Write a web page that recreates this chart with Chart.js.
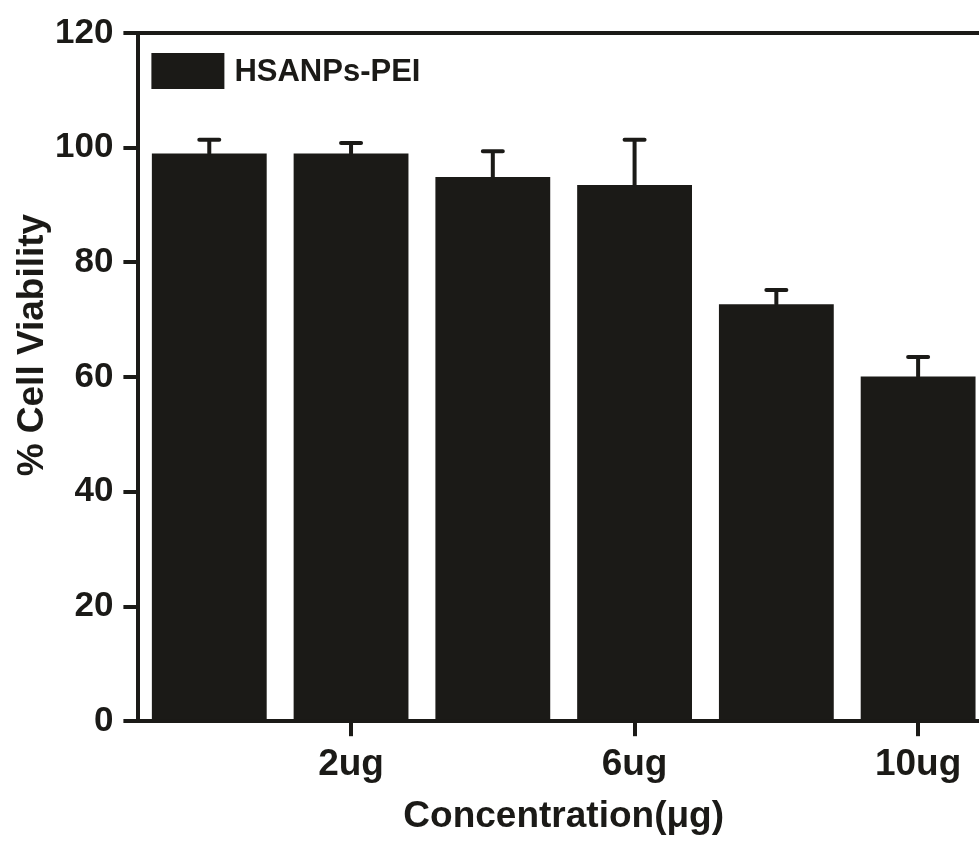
<!DOCTYPE html>
<html>
<head>
<meta charset="utf-8">
<script src="https://cdn.jsdelivr.net/npm/chart.js@4/dist/chart.umd.min.js"></script>
<style>
  html, body { margin: 0; padding: 0; background: #fff; overflow: hidden; }
  #wrap { width: 990px; height: 846px; }
</style>
</head>
<body>
<div id="wrap"><canvas id="viabilityChart" width="990" height="846"></canvas></div>
<script>
// values
const categories = ['', '2ug', '', '6ug', '', '10ug'];
const viability = [99.0, 99.0, 94.9, 93.5, 72.7, 60.1];
const errorUp = [2.4, 1.8, 4.5, 7.9, 2.5, 3.4];
const seriesName = 'HSANPs-PEI';
const yTitle = '% Cell Viability';
const xTitle = 'Concentration(\u03bcg)';
const ink = '#1b1a17';
const fontFamily = "'Liberation Sans', Arial, sans-serif";

// upper error bars, frame, in-plot legend and the (off-centre) y title
const extrasPlugin = {
    id: 'extras',
    afterDatasetsDraw(chart) {
        const ctx = chart.ctx;
        const y = chart.scales.y;
        const meta = chart.getDatasetMeta(0);
        ctx.save();
        ctx.strokeStyle = ink;
        ctx.lineWidth = 4;
        ctx.lineCap = 'round';
        meta.data.forEach((bar, i) => {
            const top = y.getPixelForValue(viability[i] + errorUp[i]);
            ctx.beginPath();
            ctx.moveTo(bar.x, bar.y);
            ctx.lineTo(bar.x, top);
            ctx.moveTo(bar.x - 10, top);
            ctx.lineTo(bar.x + 10, top);
            ctx.stroke();
        });

        const a = chart.chartArea;
        ctx.lineCap = 'butt';
        ctx.beginPath();
        ctx.moveTo(a.left - 2, a.top);
        ctx.lineTo(a.right, a.top);
        ctx.lineTo(a.right, a.bottom);
        ctx.stroke();

        // legend
        ctx.fillStyle = ink;
        ctx.fillRect(a.left + 13, a.top + 20, 73, 36);
        ctx.font = 'bold 31px ' + fontFamily;
        ctx.textBaseline = 'middle';
        ctx.fillText(chart.data.datasets[0].label, a.left + 96, a.top + 39);

        // y title
        ctx.translate(33, (a.top + a.bottom) / 2 - 32);
        ctx.rotate(-Math.PI / 2);
        ctx.font = 'bold 37px ' + fontFamily;
        ctx.textAlign = 'center';
        ctx.fillText(yTitle, 0, 0);
        ctx.restore();
    }
};

new Chart(document.getElementById('viabilityChart'), {
    type: 'bar',
    data: {
        labels: categories,
        datasets: [{
            label: seriesName,
            data: viability,
            backgroundColor: ink,
            borderWidth: 0,
            categoryPercentage: 1.0,
            barPercentage: 0.81
        }]
    },
    options: {
        responsive: false,
        animation: false,
        layout: { padding: { left: 45, top: 33, right: 1, bottom: 7 } },
        plugins: {
            legend: { display: false },
            tooltip: { enabled: false }
        },
        scales: {
            x: {
                offset: true,
                border: { display: true, color: ink, width: 4 },
                grid: {
                    offset: false,
                    drawOnChartArea: false,
                    tickLength: 15,
                    lineWidth: 4,
                    color: c => (categories[c.index] ? ink : 'rgba(0,0,0,0)')
                },
                ticks: {
                    color: ink,
                    padding: 6,
                    autoSkip: false,
                    maxRotation: 0,
                    font: { family: fontFamily, size: 37, weight: 'bold' }
                },
                title: {
                    display: true,
                    text: xTitle,
                    color: ink,
                    padding: { top: 2, bottom: 0 },
                    font: { family: fontFamily, size: 37, weight: 'bold' }
                }
            },
            y: {
                min: 0,
                max: 120,
                border: { display: true, color: ink, width: 4 },
                grid: {
                    drawOnChartArea: false,
                    tickLength: 15,
                    lineWidth: 4,
                    color: ink
                },
                ticks: {
                    stepSize: 20,
                    color: ink,
                    padding: 10,
                    font: { family: fontFamily, size: 35, weight: 'bold' }
                }
            }
        }
    },
    plugins: [extrasPlugin]
});
</script>
</body>
</html>
